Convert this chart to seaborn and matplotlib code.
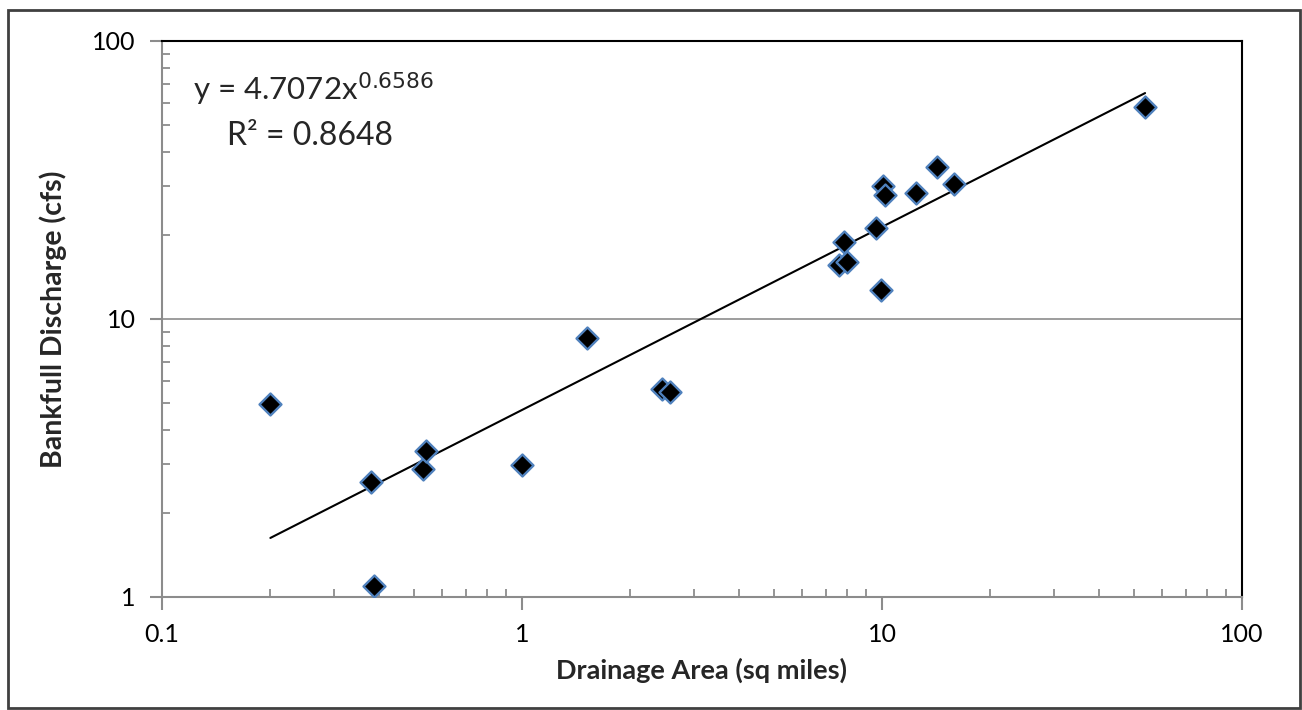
import numpy as np
import pandas as pd
import matplotlib
matplotlib.use("Agg")
import matplotlib.pyplot as plt
import seaborn as sns
from matplotlib.ticker import FixedLocator, NullFormatter, FixedFormatter
from matplotlib.patches import Rectangle

# Data
drainage_area = [0.2, 0.381, 0.387, 0.531, 0.541, 1.0, 1.52, 2.45, 2.58,
                 7.6, 7.84, 8.0, 9.62, 9.95, 10.07, 10.2, 12.4, 14.2, 15.85, 53.8]
bankfull_q = [4.95, 2.59, 1.095, 2.89, 3.35, 2.98, 8.54, 5.6, 5.46,
              15.6, 18.9, 16.0, 21.2, 12.7, 30.1, 27.9, 28.4, 35.2, 30.6, 57.9]
coef = 4.7072
expo = 0.6586
r2 = 0.8648
x_ticks = [0.1, 1, 10, 100]
x_tick_labels = ["0.1", "1", "10", "100"]
y_ticks = [1, 10, 100]
y_tick_labels = ["1", "10", "100"]

sns.set_style("white")
plt.rcParams['font.family'] = ['Lato', 'DejaVu Sans']

df = pd.DataFrame({"x": drainage_area, "y": bankfull_q})
xs = np.linspace(min(drainage_area), max(drainage_area), 200)
trend = pd.DataFrame({"x": xs, "y": coef * xs ** expo})

W, H = 1302, 710
fig = plt.figure(figsize=(W / 100, H / 100), dpi=100)
ax = fig.add_axes([162 / W, 1 - 597 / H, (1242 - 162) / W, (597 - 41) / H])

ax.set_xscale("log")
ax.set_yscale("log")
ax.set_xlim(0.1, 100)
ax.set_ylim(1, 100)

ax.axhline(10, color="#8c8c8c", lw=1.2, zorder=0)

sns.lineplot(data=trend, x="x", y="y", ax=ax, color="black", lw=1.5, zorder=2)
sns.scatterplot(data=df, x="x", y="y", ax=ax, marker="D", s=125,
                color="black", edgecolor="#4f81bd", linewidth=1.7, zorder=3)

gray = "#8c8c8c"
ax.spines["left"].set_color(gray)
ax.spines["bottom"].set_color(gray)
ax.spines["top"].set_color("black")
ax.spines["right"].set_color("black")
for s in ax.spines.values():
    s.set_linewidth(1.5)

ax.xaxis.set_major_locator(FixedLocator(x_ticks))
ax.xaxis.set_major_formatter(FixedFormatter(x_tick_labels))
ax.yaxis.set_major_locator(FixedLocator(y_ticks))
ax.yaxis.set_major_formatter(FixedFormatter(y_tick_labels))
minors_x = [m * d for d in [0.1, 1, 10] for m in range(2, 10)]
minors_y = [m * d for d in [1, 10] for m in range(2, 10)]
ax.xaxis.set_minor_locator(FixedLocator(minors_x))
ax.yaxis.set_minor_locator(FixedLocator(minors_y))
ax.xaxis.set_minor_formatter(NullFormatter())
ax.yaxis.set_minor_formatter(NullFormatter())

ax.tick_params(which="major", direction="out", length=9, width=1.5, color=gray,
               labelsize=18, labelcolor="black", pad=10,
               bottom=True, left=True, top=False, right=False)
ax.tick_params(which="minor", direction="in", length=6, width=1.3, color=gray,
               bottom=True, left=True, top=False, right=False)

ax.set_xlabel("Drainage Area (sq miles)", fontsize=19.5, fontweight="bold", labelpad=8)
ax.set_ylabel("Bankfull Discharge (cfs)", fontsize=20.5, fontweight="bold", labelpad=18)

ax.text(193 / W, 1 - 100 / H, "y = %.4fx$^{%.4f}$" % (coef, expo),
        transform=fig.transFigure, fontsize=22.5, ha="left", va="baseline")
ax.text(227 / W, 1 - 145 / H, "R² = %.4f" % r2,
        transform=fig.transFigure, fontsize=23, ha="left", va="baseline")

fig.add_artist(Rectangle((8 / W, 2 / H), (1300 - 8) / W, (H - 12) / H,
                         transform=fig.transFigure, fill=False,
                         edgecolor="#404040", lw=2))

fig.savefig("out.png", dpi=100)
